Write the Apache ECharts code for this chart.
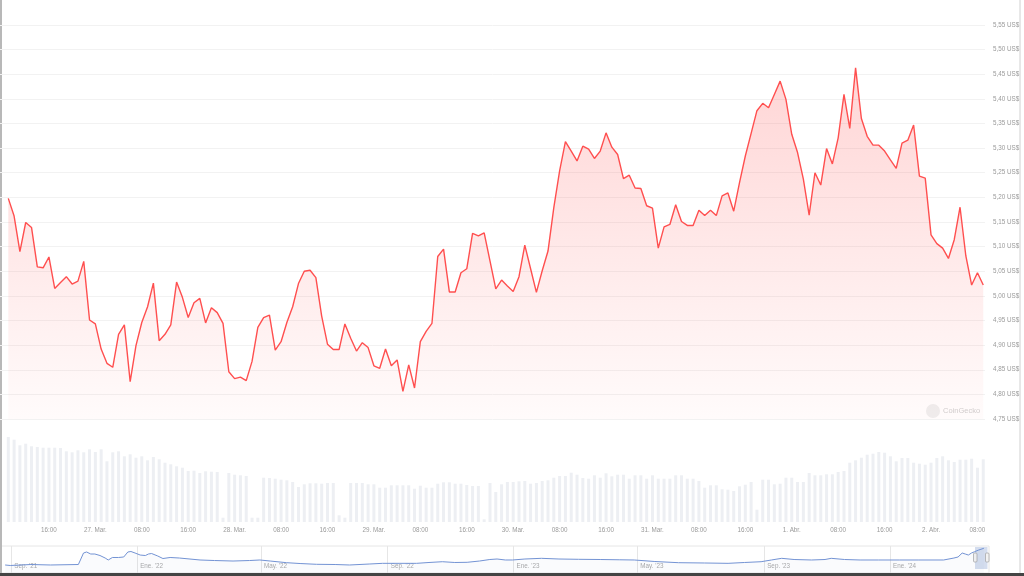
<!DOCTYPE html>
<html><head><meta charset="utf-8">
<script src="https://cdn.jsdelivr.net/npm/echarts@6/dist/echarts.min.js"></script>
<style>html,body{margin:0;padding:0;background:#fff}#c{width:1024px;height:576px}</style>
</head><body><div id="c"></div>
<script>
// hourly series starting 2024-03-26 09:00 (UTC)
const startTime = Date.UTC(2024, 2, 26, 9, 0, 0);
const prices = [
5.198,5.162,5.090,5.149,5.139,5.059,5.057,5.079,5.015,5.027,
5.039,5.024,5.030,5.070,4.951,4.943,4.892,4.863,4.855,4.922,
4.941,4.826,4.899,4.946,4.978,5.026,4.909,4.922,4.941,5.028,
4.997,4.956,4.986,4.995,4.945,4.976,4.966,4.944,4.846,4.832,
4.835,4.828,4.867,4.936,4.956,4.961,4.890,4.907,4.946,4.978,
5.025,5.050,5.052,5.037,4.959,4.902,4.891,4.891,4.943,4.914,
4.888,4.905,4.895,4.858,4.853,4.892,4.858,4.870,4.806,4.860,
4.813,4.907,4.928,4.944,5.080,5.095,5.008,5.008,5.047,5.055,
5.127,5.122,5.128,5.071,5.014,5.032,5.020,5.009,5.039,5.103,
5.055,5.007,5.051,5.091,5.179,5.254,5.313,5.294,5.274,5.304,
5.298,5.279,5.294,5.331,5.302,5.287,5.238,5.245,5.219,5.218,
5.183,5.178,5.097,5.140,5.145,5.185,5.151,5.143,5.143,5.174,
5.163,5.174,5.163,5.203,5.209,5.172,5.230,5.284,5.330,5.376,
5.391,5.382,5.409,5.436,5.399,5.328,5.291,5.237,5.164,5.250,
5.225,5.299,5.268,5.321,5.409,5.340,5.463,5.360,5.324,5.306,
5.306,5.294,5.276,5.259,5.310,5.316,5.347,5.243,5.239,5.124,
5.106,5.097,5.076,5.114,5.180,5.081,5.022,5.047,5.022
];
// hourly volume (M US$)
const volumes = [
85,82.3,76.7,78.3,75.7,75,74.3,74.3,74.3,74,
70.7,69.7,71.7,69.7,72.7,70,72.7,60.7,69.7,70.7,
65.7,67.7,64.3,65.7,61.7,65,62.7,59.3,57.7,55.7,
54.3,51,51.3,49,50.7,50.3,50,4.3,49,47.3,
46.7,46,4.3,4.3,44.3,44,43.3,42.3,41.7,40,
35,37.7,38.7,38.7,38.3,39,39,6.7,4.3,39,
39,39,37.7,37.7,34.3,34.3,36.7,36.7,36.7,36.7,
33.3,36.3,34.3,34.3,38.3,39.7,39.7,38.3,38.3,37,
36,36,2.7,39,30,37.7,40,40,40.7,41,
38.3,39,41,41.7,44.3,46,46,49.3,47.3,44,
43.3,46.7,44.3,48.7,45.7,47.3,47.3,43.3,46.7,46.7,
43.3,46.7,43.3,43.3,43.3,46.7,46.7,43.3,43.3,41,
34.3,36.7,36.7,32.7,32.3,31,35.7,37.3,40,12.3,
42.3,42.3,37.7,38.3,44.3,44.3,40,40,49,46.7,
46.7,47.7,47.7,50,51,59.3,61.7,64.3,67.3,68.3,
70,69.3,65.7,60.7,64,64,59.3,58.3,57.3,59.3,
64,65.7,61.7,60,62.3,62.3,63.3,54.3,62.7
];
const monthNames = ['Ene.','Feb.','Mar.','Abr.','May.','Jun.','Jul.','Ago.','Sep.','Oct.','Nov.','Dic.'];
const yMin = 4.75, yMax = 5.55, yStep = 0.05;

// long-term history for the navigator
const navDates = [
'2021-08-26','2021-08-31','2021-09-20','2021-10-09','2021-11-05','2021-11-07','2021-11-10','2021-11-13','2021-11-17','2021-11-21',
'2021-11-26','2021-12-01','2021-12-04','2021-12-08','2021-12-14','2021-12-19','2021-12-23','2021-12-26','2021-12-30','2022-01-04',
'2022-01-09','2022-01-12','2022-01-15','2022-01-21','2022-01-26','2022-02-02','2022-02-11','2022-03-03','2022-03-17','2022-04-04',
'2022-04-20','2022-04-30','2022-05-10','2022-05-26','2022-06-08','2022-06-24','2022-07-12','2022-07-26','2022-08-14','2022-08-27',
'2022-09-12','2022-09-29','2022-10-11','2022-10-24','2022-11-05','2022-11-17','2022-11-29','2022-12-09','2022-12-16','2022-12-24',
'2022-12-31','2023-01-12','2023-01-28','2023-02-14','2023-03-05','2023-03-26','2023-04-14','2023-04-28','2023-05-18','2023-06-10',
'2023-07-05','2023-07-28','2023-08-13','2023-08-29','2023-09-08','2023-09-18','2023-09-30','2023-10-17','2023-10-30','2023-11-05',
'2023-11-18','2023-12-03','2023-12-21','2024-01-10','2024-01-29','2024-02-22','2024-03-03','2024-03-07','2024-03-11','2024-03-14',
'2024-03-17','2024-03-20','2024-03-23','2024-03-27','2024-04-01'
];
const navValues = [
1.63,1.53,1.73,1.63,1.73,2.65,4.07,4.28,3.87,3.87,
3.56,3.05,2.65,3.16,3.16,3.26,4.28,4.38,4.07,3.66,
3.56,3.87,3.97,3.46,2.95,3.16,3.05,2.65,2.54,2.44,
2.54,2.65,2.44,2.10,1.93,1.77,1.73,1.63,1.83,1.97,
1.97,1.97,2.14,2.30,2.14,2.18,2.44,2.75,2.85,2.65,
2.65,2.85,2.99,2.85,2.79,2.75,2.69,2.65,2.34,2.10,
2.04,1.97,2.14,2.30,2.65,2.99,2.75,2.65,2.75,2.99,
2.75,2.65,2.65,2.65,2.65,2.65,3.05,3.26,4.07,3.87,
3.66,4.07,4.34,4.68,5.03
];
const navTicks = ['2021-09-01','2022-01-01','2022-05-01','2022-09-01','2023-01-01','2023-05-01','2023-09-01','2024-01-01'];
const navTickLabels = ["Sep. '21","Ene. '22","May. '22","Sep. '22","Ene. '23","May. '23","Sep. '23","Ene. '24"];

const FONT = 'Liberation Sans, Arial, sans-serif';
const hourIdx = prices.map((_, i) => i);
const labelIdx = hourIdx.filter(i => new Date(startTime + i * 3600000).getUTCHours() % 8 === 0);
function hourLabel(i) {
  const d = new Date(startTime + i * 3600000);
  const h = d.getUTCHours();
  if (h === 0) return d.getUTCDate() + '. ' + monthNames[d.getUTCMonth()];
  return (h < 10 ? '0' : '') + h + ':00';
}
const navTickTs = navTicks.map(s => Date.parse(s));

const chart = echarts.init(document.getElementById('c'), null, {renderer: 'canvas'});
chart.setOption({
  animation: false,
  backgroundColor: '#ffffff',
  textStyle: {fontFamily: FONT},
  grid: [
    {left: 0, right: 39, top: 25, height: 394},
    {left: 0, right: 39, top: 422, height: 100},
    {left: 1, right: 35, top: 546, height: 27, show: true, borderColor: '#e6e6e6', borderWidth: 1, backgroundColor: 'transparent'}
  ],
  xAxis: [
    {type: 'value', gridIndex: 0, min: -1.43, max: 168.3, show: false},
    {type: 'value', gridIndex: 1, min: -1.43, max: 168.3,
     axisLine: {show: false}, axisTick: {show: false}, splitLine: {show: false},
     axisLabel: {customValues: labelIdx, formatter: v => hourLabel(v), fontSize: 6.3, color: '#9a9a9a', margin: 5, fontFamily: FONT}},
    {type: 'value', gridIndex: 2, min: Date.parse('2021-08-22'), max: Date.parse('2024-04-06'),
     axisLine: {show: false}, axisTick: {show: false, customValues: navTickTs},
     splitLine: {show: true, lineStyle: {color: '#e6e6e6', width: 1}},
     axisLabel: {customValues: navTickTs, inside: true, align: 'left', margin: 4, padding: [0,0,0,3],
       formatter: v => navTickLabels[navTickTs.indexOf(v)] || '', fontSize: 6.3, color: '#aaaaaa', fontFamily: FONT}}
  ],
  yAxis: [
    {type: 'value', gridIndex: 0, position: 'right', min: yMin, max: yMax, interval: yStep,
     axisLine: {show: false}, axisTick: {show: false},
     splitLine: {show: true, lineStyle: {color: '#f2f2f2', width: 1}},
     axisLabel: {fontSize: 6.3, color: '#9a9a9a', margin: 8, fontFamily: FONT,
       formatter: v => v.toFixed(2).replace('.', ',') + ' US$'}},
    {type: 'value', gridIndex: 1, min: 0, max: 100, show: false},
    {type: 'value', gridIndex: 2, min: 0, max: 5.5, show: false}
  ],
  series: [
    {type: 'bar', xAxisIndex: 1, yAxisIndex: 1, barWidth: 3,
     itemStyle: {color: '#edeff3'}, data: volumes.map((v, i) => [i, v])},
    {type: 'line', xAxisIndex: 0, yAxisIndex: 0, showSymbol: false, symbol: 'none',
     lineStyle: {color: '#ff4f4f', width: 1.4},
     areaStyle: {color: new echarts.graphic.LinearGradient(0, 0, 0, 1, [
       {offset: 0, color: 'rgba(255,80,80,0.34)'},
       {offset: 1, color: 'rgba(255,80,80,0.03)'}])},
     data: prices.map((p, i) => [i, p])},
    {type: 'line', xAxisIndex: 2, yAxisIndex: 2, showSymbol: false, symbol: 'none',
     lineStyle: {color: '#7393d4', width: 1},
     areaStyle: {color: 'rgba(115,147,212,0.05)'},
     data: navDates.map((d, i) => [Date.parse(d), navValues[i]])}
  ],
  graphic: [
    {type: 'circle', shape: {cx: 933, cy: 411, r: 7}, style: {fill: '#efefef'}, silent: true},
    {type: 'text', left: 943, top: 407, style: {text: 'CoinGecko', fill: '#d0d0d0', font: '7.5px ' + FONT}, silent: true},
    {type: 'rect', shape: {x: 975, y: 547, width: 12.5, height: 22}, style: {fill: 'rgba(102,133,194,0.28)'}, silent: true},
    {type: 'rect', shape: {x: 973.5, y: 553, width: 3.5, height: 9, r: 1}, style: {fill: '#f2f2f2', stroke: '#a0a0a0', lineWidth: 0.7}, silent: true},
    {type: 'rect', shape: {x: 985.5, y: 553, width: 3.5, height: 9, r: 1}, style: {fill: '#f2f2f2', stroke: '#a0a0a0', lineWidth: 0.7}, silent: true},
    {type: 'line', shape: {x1: 1, y1: 0, x2: 1, y2: 576}, style: {stroke: '#b8b8b8', lineWidth: 2}, silent: true},
    {type: 'line', shape: {x1: 1020, y1: 0, x2: 1020, y2: 576}, style: {stroke: '#d0d0d0', lineWidth: 1}, silent: true},
    {type: 'line', shape: {x1: 0, y1: 574.5, x2: 1024, y2: 574.5}, style: {stroke: '#444444', lineWidth: 3}, silent: true}
  ]
});
</script>
</body></html>
